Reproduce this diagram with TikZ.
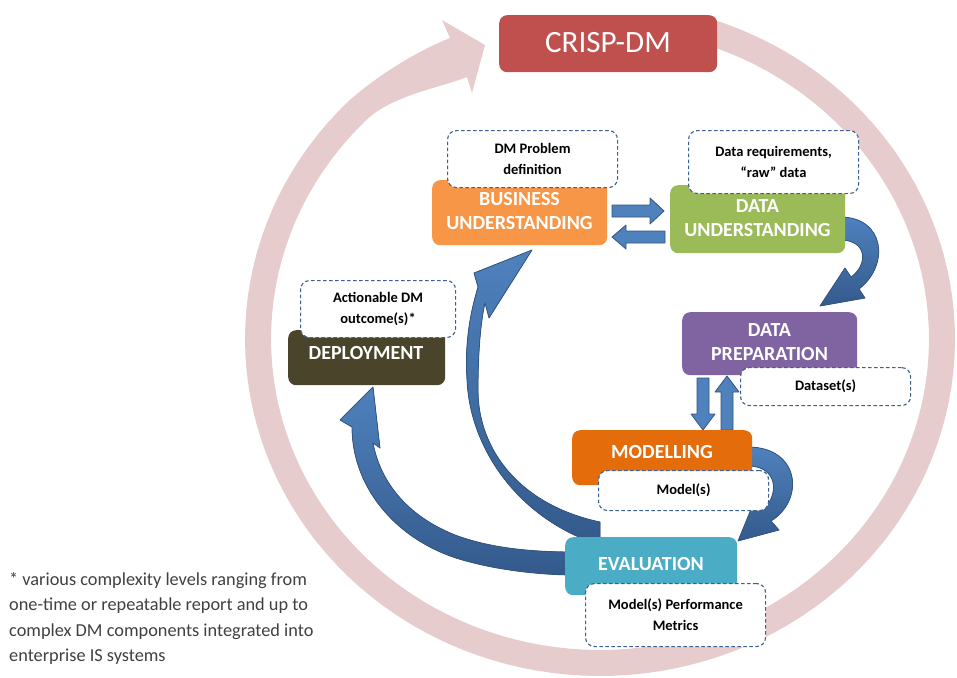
\documentclass[tikz,border=0pt]{standalone}
\usepackage{fontspec}
\setmainfont{Carlito}
\definecolor{ringc}{RGB}{230,204,204}
\definecolor{crispc}{RGB}{192,80,77}
\definecolor{buc}{RGB}{247,150,70}
\definecolor{duc}{RGB}{155,187,89}
\definecolor{dpc}{RGB}{128,100,162}
\definecolor{moc}{RGB}{228,108,10}
\definecolor{evc}{RGB}{75,172,198}
\definecolor{dec}{RGB}{74,69,42}
\definecolor{dashc}{RGB}{60,95,145}
\definecolor{arrc}{RGB}{79,129,189}
\definecolor{arrdk}{RGB}{52,90,140}
\definecolor{arrline}{RGB}{50,85,130}
\definecolor{notec}{RGB}{64,64,64}
\begin{document}
\begin{tikzpicture}[x=1pt,y=-1pt,
  phase/.style={rounded corners=8pt, inner sep=0pt, anchor=north west, draw=none},
  lbl/.style={text=white, font=\bfseries\fontsize{20}{24}\selectfont, align=center, inner sep=0pt},
  note/.style={draw=dashc, line width=1.1pt, dash pattern=on 3.5pt off 2.5pt, fill=white,
    rounded corners=9pt, anchor=north west, inner sep=0pt, align=center,
    font=\bfseries\fontsize{14.5}{21}\selectfont, text=black},
  blk/.style={fill=arrc, draw=arrline, line width=0.8pt, line join=round},
  crv/.style={top color=arrc, bottom color=arrdk, draw=arrline, line width=0.8pt, line join=round}]
\useasboundingbox (0,0) rectangle (957,677);

% ---- big circular arrow (ring) ----
\fill[ringc]
  plot[domain=0:297, samples=120] ({600+355*cos(72-\x)},{339-337*sin(72-\x)})
  .. controls (383,71) and (422,49) .. (450,38)
  -- (442,20) -- (485,45) -- (472,93) -- (467,77)
  .. controls (444,86.5) and (393,95) .. (367.4,119.1)
  -- plot[domain=0:297, samples=120] ({600+329*cos(-225+\x)},{339-311*sin(-225+\x)})
  -- cycle;

% ---- block arrows ----
% Business -> Data understanding
\filldraw[blk] (612,205) -- (650,205) -- (650,198) -- (664,211) -- (650,224) -- (650,217) -- (612,217) -- cycle;
% Data understanding -> Business
\filldraw[blk] (665,231) -- (626,231) -- (626,225) -- (612,237) -- (626,249) -- (626,243) -- (665,243) -- cycle;
% Data preparation -> Modelling
\filldraw[blk] (697,378) -- (709,378) -- (709,414) -- (715,414) -- (703,430) -- (691,414) -- (697,414) -- cycle;
% Modelling -> Data preparation
\filldraw[blk] (721,430) -- (733,430) -- (733,392) -- (739,392) -- (727,376) -- (715,392) -- (721,392) -- cycle;
% Data understanding -> Data preparation
\filldraw[crv] (840,217) .. controls (885,217) and (890,265) .. (859,289)
  -- (865,298) -- (820,306) -- (845,268) -- (851,277)
  .. controls (868,265) and (868,240) .. (840,240) -- cycle;
% Modelling -> Evaluation
\filldraw[crv] (748,447) .. controls (800,447) and (805,500) .. (771,521)
  -- (779,530) -- (738,541) -- (754,502) -- (762,511)
  .. controls (780,495) and (778,466) .. (748,466) -- cycle;
% Evaluation -> Business understanding
\filldraw[crv] (600,545) .. controls (520,520) and (470,450) .. (467,380)
  .. controls (465,350) and (468,320) .. (478,287)
  -- (474,273) -- (532,250) -- (489,318) -- (485,303)
  .. controls (481,320) and (478,350) .. (478,390)
  .. controls (478,450) and (520,505) .. (600,522) -- cycle;
% Evaluation -> Deployment
\filldraw[crv] (575,575) .. controls (540,575) and (500,570) .. (470,562)
  .. controls (400,545) and (352,490) .. (352,427)
  -- (340,420) -- (373,387) -- (380,448) -- (373,443)
  .. controls (380,480) and (405,515) .. (455,535)
  .. controls (490,548) and (530,552) .. (575,552) -- cycle;

% ---- phase boxes ----
\node[phase, fill=crispc, minimum width=218pt, minimum height=57pt] (crisp) at (499,15) {};
\node[phase, fill=buc, minimum width=175pt, minimum height=65pt] (bu) at (432,180) {};
\node[phase, fill=duc, minimum width=175pt, minimum height=68pt] (du) at (670,185) {};
\node[phase, fill=dpc, minimum width=175pt, minimum height=63pt] (dp) at (682,312) {};
\node[phase, fill=moc, minimum width=180pt, minimum height=55pt] (mo) at (572,430) {};
\node[phase, fill=evc, minimum width=172pt, minimum height=58pt] (ev) at (565,537) {};
\node[phase, fill=dec, minimum width=157pt, minimum height=55pt] (de) at (288,330) {};

% ---- dashed output notes ----
\node[note, minimum width=170pt, minimum height=57pt] (nbu) at (447,130) {DM Problem\\definition};
\node[note, minimum width=170pt, minimum height=63pt] (ndu) at (688,130) {Data requirements,\\“raw” data};
\node[note, minimum width=170pt, minimum height=38pt] (ndp) at (740,367) {Dataset(s)};
\node[note, minimum width=170pt, minimum height=40pt] (nmo) at (598,470) {Model(s)};
\node[note, minimum width=180pt, minimum height=63pt] (nev) at (585,583) {Model(s) Performance\\Metrics};
\node[note, minimum width=155pt, minimum height=57pt] (nde) at (300,280) {Actionable DM\\outcome(s)*};

% ---- labels ----
\node[text=white, font=\fontsize{31}{36}\selectfont, inner sep=0pt] (crispt) at (608,43) {CRISP-DM};
\node[lbl] (but) at (519.5,211) {BUSINESS\\UNDERSTANDING};
\node[lbl] (dut) at (757.5,218) {DATA\\UNDERSTANDING};
\node[lbl] (dpt) at (769.5,342) {DATA\\PREPARATION};
\node[lbl] (mot) at (662,452) {MODELLING};
\node[lbl] (evt) at (651,564) {EVALUATION};
\node[lbl] (det) at (366,353) {DEPLOYMENT};

% ---- footnote ----
\node[anchor=north west, align=left, inner sep=0pt, text=notec,
  font=\fontsize{18.3}{25.5}\selectfont] (fn) at (9,572)
  {* various complexity levels ranging from\\one-time or repeatable report and up to\\complex DM components integrated into\\enterprise IS systems};
\end{tikzpicture}
\end{document}
